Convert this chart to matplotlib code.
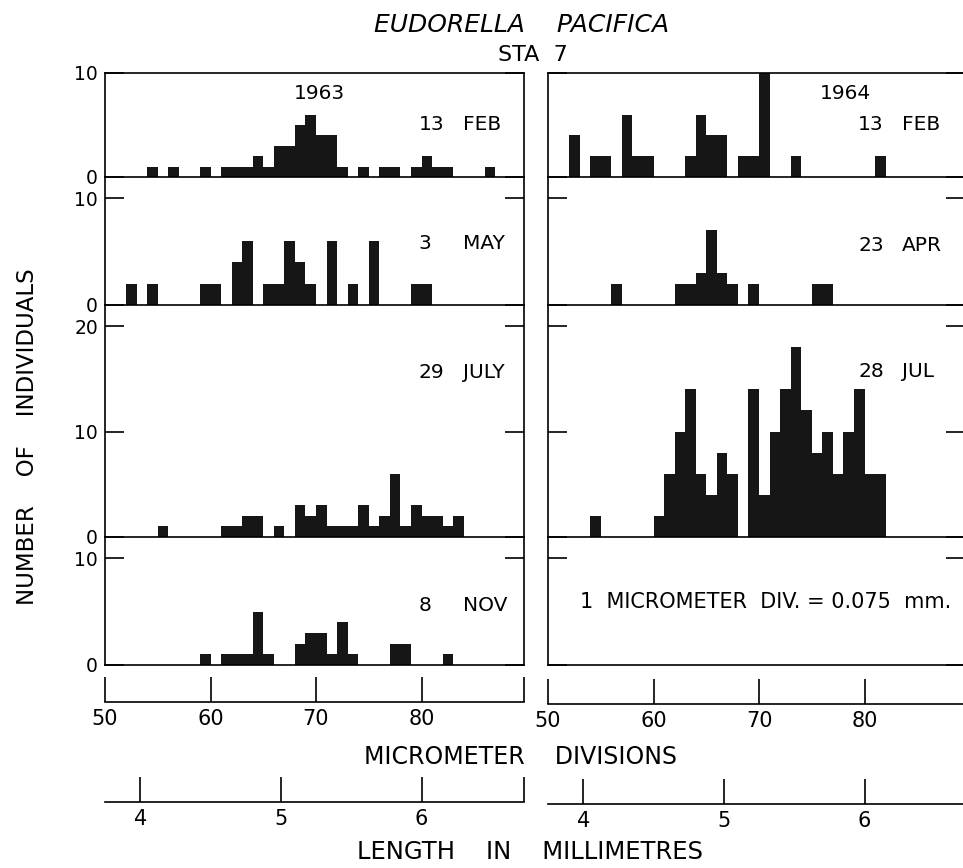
import matplotlib
matplotlib.use("Agg")
import matplotlib.pyplot as plt

plt.rcParams['font.family'] = ['DejaVu Sans']

# bin left edges (micrometer divisions) and counts for each sample
feb63_bins = [54, 56, 59, 61, 62, 63, 64, 65, 66, 67, 68, 69, 70, 71, 72, 74, 76, 77, 79, 80, 81, 82, 86]
feb63_counts = [1, 1, 1, 1, 1, 1, 2, 1, 3, 3, 5, 6, 4, 4, 1, 1, 1, 1, 1, 2, 1, 1, 1]

may63_bins = [52, 54, 59, 60, 62, 63, 65, 66, 67, 68, 69, 71, 73, 75, 79, 80]
may63_counts = [2, 2, 2, 2, 4, 6, 2, 2, 6, 4, 2, 6, 2, 6, 2, 2]

jul63_bins = [55, 61, 62, 63, 64, 66, 68, 69, 70, 71, 72, 73, 74, 75, 76, 77, 78, 79, 80, 81, 82, 83]
jul63_counts = [1, 1, 1, 2, 2, 1, 3, 2, 3, 1, 1, 1, 3, 1, 2, 6, 1, 3, 2, 2, 1, 2]

nov63_bins = [59, 61, 62, 63, 64, 65, 68, 69, 70, 71, 72, 73, 77, 78, 82]
nov63_counts = [1, 1, 1, 1, 5, 1, 2, 3, 3, 1, 4, 1, 2, 2, 1]

feb64_bins = [52, 54, 55, 57, 58, 59, 63, 64, 65, 66, 68, 69, 70, 73, 81]
feb64_counts = [4, 2, 2, 6, 2, 2, 2, 6, 4, 4, 2, 2, 10, 2, 2]

apr64_bins = [56, 62, 63, 64, 65, 66, 67, 69, 75, 76]
apr64_counts = [2, 2, 2, 3, 7, 3, 2, 2, 2, 2]

jul64_bins = [54, 60, 61, 62, 63, 64, 65, 66, 67, 69, 70, 71, 72, 73, 74, 75, 76, 77, 78, 79, 80, 81]
jul64_counts = [2, 2, 6, 10, 14, 6, 4, 8, 6, 14, 4, 10, 14, 18, 12, 8, 10, 6, 10, 14, 6, 6]

day_labels_63 = ['13', '3', '29', '8']
month_labels_63 = ['FEB', 'MAY', 'JULY', 'NOV']
day_labels_64 = ['13', '23', '28']
month_labels_64 = ['FEB', 'APR', 'JUL']

row_ylims = [10, 12, 22, 12]
row_yticks = [[0, 10], [0, 10], [0, 10, 20], [0, 10]]

div_ticks = [50, 60, 70, 80]
mm_ticks = [4, 5, 6]
MM_PER_DIV = 0.075

W, H = 963, 868
fig = plt.figure(figsize=(W / 100, H / 100), dpi=100)


def px_axes(x0, y0, x1, y1):
    return fig.add_axes([x0 / W, 1 - y1 / H, (x1 - x0) / W, (y1 - y0) / H])


row_px = [(73, 177), (177, 305), (305, 537), (537, 665)]
col_px = [(105, 524), (548, 965)]
BAR = '#161616'
LW = 1.2

data63 = [(feb63_bins, feb63_counts), (may63_bins, may63_counts),
          (jul63_bins, jul63_counts), (nov63_bins, nov63_counts)]
data64 = [(feb64_bins, feb64_counts), (apr64_bins, apr64_counts),
          (jul64_bins, jul64_counts), ([], [])]

for c, data in enumerate([data63, data64]):
    x0, x1 = col_px[c]
    xmax = 50 + (x1 - x0) / 10.55
    for r, (bins, counts) in enumerate(data):
        y0, y1 = row_px[r]
        ax = px_axes(x0, y0, x1, y1)
        if bins:
            ax.bar(bins, counts, width=1, align='edge', color=BAR, linewidth=0)
        ax.set_xlim(50, xmax)
        ax.set_ylim(0, row_ylims[r])
        ax.set_xticks([])
        ax.set_yticks(row_yticks[r])
        ax.set_yticklabels([str(t) for t in row_yticks[r]])
        ax.tick_params(axis='y', direction='in', length=14, width=LW,
                       left=True, right=True, labelleft=(c == 0),
                       labelsize=13.5, pad=5)
        for s in ax.spines.values():
            s.set_linewidth(LW)
        ax.spines['top'].set_visible(r == 0)
        ax.patch.set_alpha(0)

        # sample date labels
        if c == 0:
            ax.text(79.7, [5.0, 5.8, 15.6, 5.6][r], day_labels_63[r], fontsize=14.5, va='center')
            ax.text(83.9, [5.0, 5.8, 15.6, 5.6][r], month_labels_63[r], fontsize=14.5, va='center')
        elif r < 3:
            ax.text(79.4, [5.0, 5.6, 15.7][r], day_labels_64[r], fontsize=14.5, va='center')
            ax.text(83.55, [5.0, 5.6, 15.7][r], month_labels_64[r], fontsize=14.5, va='center')
        else:
            ax.text(53.0, 5.9, '1  MICROMETER  DIV. = 0.075  mm.', fontsize=15, va='center')
        if r == 0:
            ax.text([70.3, 78.2][c], 8.0, ['1963', '1964'][c], fontsize=14.5,
                    ha='center', va='center')

    # micrometer divisions scale
    sx = px_axes(x0, [676, 678][c], x1, [702, 704][c])
    # mm scale
    mx = px_axes(x0, [777, 779][c], x1, [802, 804][c])
    for a, ticks, labels in [
        (sx, div_ticks + ([xmax] if c == 0 else []),
         [str(t) for t in div_ticks] + ([''] if c == 0 else [])),
        (mx, [m / MM_PER_DIV for m in mm_ticks] + ([xmax] if c == 0 else []),
         [str(m) for m in mm_ticks] + ([''] if c == 0 else []))]:
        a.set_xlim(50, xmax)
        a.set_ylim(0, 1)
        a.set_yticks([])
        a.set_xticks(ticks)
        a.set_xticklabels(labels)
        a.tick_params(axis='x', direction='in', length=18, width=LW,
                      labelsize=15, pad=5)
        for side in ['top', 'left', 'right']:
            a.spines[side].set_visible(False)
        a.spines['bottom'].set_linewidth(LW)
        a.patch.set_alpha(0)

fig.text(522 / W, 1 - 25 / H, 'EUDORELLA    PACIFICA', fontsize=18, style='italic',
         ha='center', va='center')
fig.text(533 / W, 1 - 55 / H, 'STA  7', fontsize=16, ha='center', va='center')
fig.text(28 / W, 1 - 437 / H, 'NUMBER    OF    INDIVIDUALS', fontsize=16.5, rotation=90,
         ha='center', va='center')
fig.text(520 / W, 1 - 757 / H, 'MICROMETER    DIVISIONS', fontsize=17,
         ha='center', va='center')
fig.text(530 / W, 1 - 852 / H, 'LENGTH    IN    MILLIMETRES', fontsize=17.5,
         ha='center', va='center')

fig.savefig('out.png', dpi=100)
